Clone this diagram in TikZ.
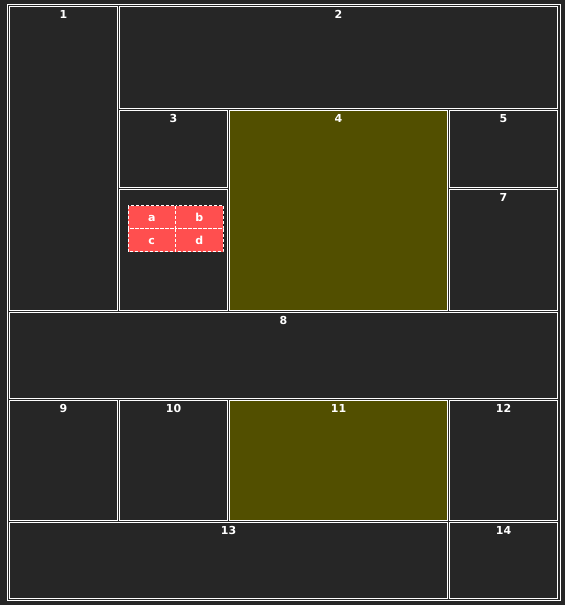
\documentclass[tikz,border=0pt]{standalone}
\usepackage{fontspec}
\setmainfont{DejaVu Sans}
\definecolor{fundo}{HTML}{262626}
\definecolor{oliva}{HTML}{524F00}
\definecolor{vermelho}{HTML}{FF4F4F}
\tikzset{
  celula/.style={draw=white, line width=1pt},
  rotulo/.style={anchor=base, inner sep=0pt, text=white, font=\bfseries\fontsize{11}{13}\selectfont},
  caixa/.style={fill=vermelho, draw=white, line width=1pt, dash pattern=on 3pt off 2pt},
}
\begin{document}
\begin{tikzpicture}[x=1pt,y=-1pt]
  % Fundo escuro e moldura externa da grade.
  \fill[fundo] (0,0) rectangle (565,605);
  \useasboundingbox (0,0) rectangle (565,605);
  \draw[celula] (7.5,4.5) rectangle (560,600.5);

  % Células escuras: número/esquerda/topo/direita/base.
  \foreach \n/\xa/\ya/\xb/\yb in {1/9.5/6.5/117.5/310.5, 2/119.5/6.5/557.5/108.5,
      3/119.5/110.5/227.5/187.5, 5/449.5/110.5/557.5/187.5, 7/449.5/189.5/557.5/310.5,
      8/9.5/312.5/557.5/398.5, 9/9.5/400.5/117.5/520.5, 10/119.5/400.5/227.5/520.5,
      12/449.5/400.5/557.5/520.5, 13/9.5/522.5/447.5/598.5, 14/449.5/522.5/557.5/598.5} {
    \draw[celula] (\xa,\ya) rectangle (\xb,\yb);
    \node[rotulo] (r\n) at ({(\xa+\xb)/2},\ya+12) {\n};
  }

  % Células em destaque, preenchidas de oliva.
  \foreach \n/\xa/\ya/\xb/\yb in {4/229.5/110.5/447.5/310.5, 11/229.5/400.5/447.5/520.5} {
    \draw[celula, fill=oliva] (\xa,\ya) rectangle (\xb,\yb);
    \node[rotulo] (r\n) at ({(\xa+\xb)/2},\ya+12) {\n};
  }

  % Célula sem número, com as quatro caixas vermelhas.
  \draw[celula] (119.5,189.5) rectangle (227.5,310.5);
  \foreach \t/\xa/\ya in {a/128/205.5, b/175.5/205.5, c/128/228.5, d/175.5/228.5} {
    \draw[caixa] (\xa,\ya) rectangle ++(47.5,23);
    \node[rotulo] (cx\t) at (\xa+23.75,\ya+15.5) {\t};
  }
\end{tikzpicture}
\end{document}
